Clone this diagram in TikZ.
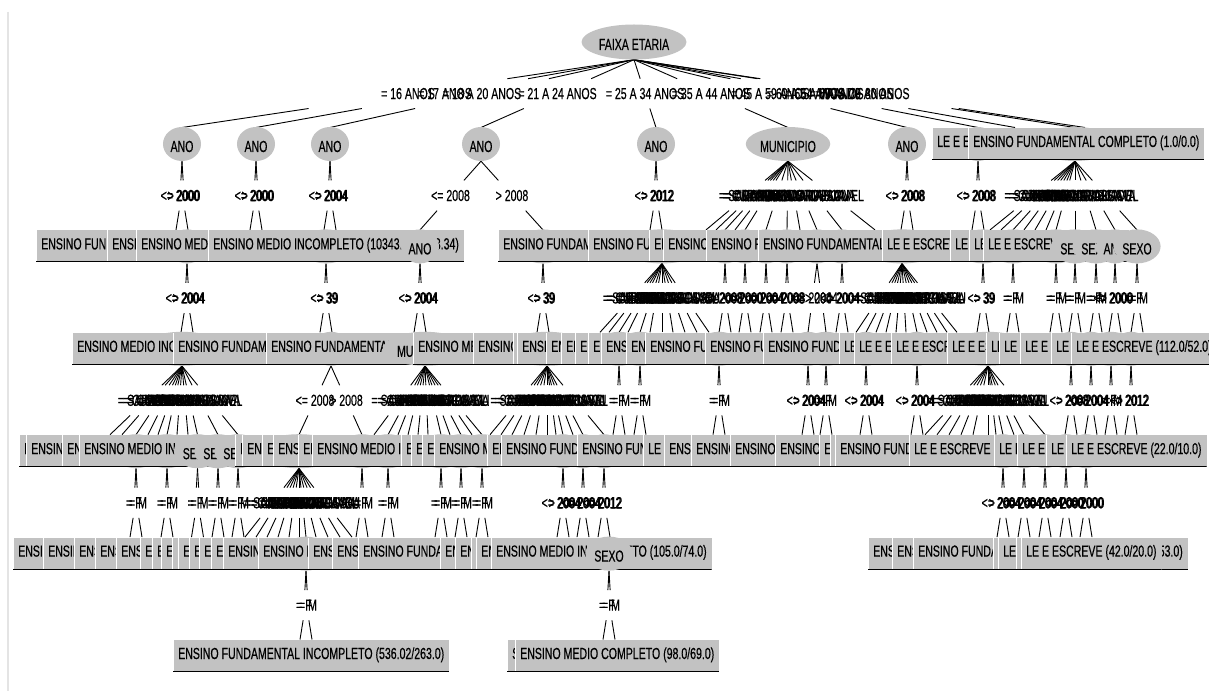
\documentclass[tikz,border=0pt]{standalone}
\usepackage{fontspec}
\setmainfont[FakeStretch=0.66,FakeBold=0.4]{Liberation Sans}
\usetikzlibrary{calc,shapes.geometric}
\pgfdeclarelayer{paper}
\pgfdeclarelayer{wires}
\pgfsetlayers{paper,wires,main}
\definecolor{nodegray}{RGB}{194,194,194}
\definecolor{shade}{RGB}{165,165,165}
\definecolor{framegray}{RGB}{228,228,228}
\tikzset{
  every node/.style={font=\fontsize{16}{16}\selectfont},
  split/.style={ellipse, fill=nodegray, inner xsep=2pt, inner ysep=0pt,
    minimum height=34pt, text height=16pt, text depth=0pt},
  leaf/.style={rectangle, fill=nodegray, inner xsep=5pt, inner ysep=0pt,
    minimum height=32pt, anchor=west, text height=11pt, text depth=5pt,
    path picture={
      \draw[white, line width=1pt]
        ([xshift=0.5pt]path picture bounding box.south west) --
        ([xshift=0.5pt]path picture bounding box.north west);
      \draw[shade, line width=1pt]
        ([yshift=0.5pt]path picture bounding box.south west) --
        ([yshift=0.5pt]path picture bounding box.south east);}},
  lbl/.style={inner sep=0pt, text height=11pt, text depth=0pt},
  wire/.style={draw=black, line width=0.9pt}
}
% nodes: an attribute test (ellipse) and a class leaf (box, left edge given)
\newcommand\splitnode[4]{\node[split] (#1) at (#2,#3) {#4};}
\newcommand\leafnode[4]{\node[leaf] (#1) at (#2,#3) {#4};}
% a branch: line from the test to the child, broken where its label sits
\newcommand\fan[3]{%
  \foreach \cx/\lab [count=\k] in {#3}{%
    \coordinate (#1-\k) at (\cx,#2);
    \draw[wire] (#1.south) -- ($(#1.south)!0.28!(#1-\k)$)
      ($(#1-\k)!0.28!(#1.south)$) -- (#1-\k);
    \node[lbl] at ($(#1.south)!0.5!(#1-\k)$) {\lab};
  }}
\newcommand\yfan[5]{\fan{#1}{#2}{#3/<= #5,#4/> #5}}
% binary test whose two children sit close together round a centre
\newcommand\pairfan[5]{%
  \foreach \d/\lab [count=\k] in {-1/#4,1/#5}{%
    \coordinate (#1-\k) at ({#3+6*\d},#2);
    \coordinate (#1-v\k) at ({#3+4*\d},#2);
    \draw[wire] (#1.south) -- ($(#1.south)!0.28!(#1-v\k)$)
      ($(#1-v\k)!0.28!(#1.south)$) -- (#1-\k);
    \node[lbl] at ($(#1.south)!0.5!(#1-v\k)$) {\lab};
  }}
\newcommand\ypair[4]{\pairfan{#1}{#2}{#3}{<= #4}{> #4}}
\newcommand\spair[3]{\pairfan{#1}{#2}{#3}{= F}{= M}}
\newcommand\city[1]{\ifcase#1\or= SARANDI\or= CURITIBA\or= COLOMBO\or= MARINGA\or= LONDRINA\or= PINHAIS\or= ARAUCARIA\or= PONTA GROSSA\or= FOZ DO IGUACU\or= GUARAPUAVA\or= CASCAVEL\fi}
\newcommand\munfan[3]{%
  \foreach \cx [count=\k] in {#3}{%
    \coordinate (#1-\k) at (\cx,#2);
    \draw[wire] (#1.south) -- ($(#1.south)!0.28!(#1-\k)$)
      ($(#1-\k)!0.28!(#1.south)$) -- (#1-\k);
    \node[lbl] at ($(#1.south)!0.5!(#1-\k)$) {\city{\k}};
  }}

\begin{document}
\begin{tikzpicture}[x=1pt,y=-1pt]
\begin{pgfonlayer}{paper}
\fill[white] (0,0) rectangle (1209,691);
\draw[framegray, line width=2pt] (8,12) -- (8,691);
\end{pgfonlayer}
\useasboundingbox (0,0) rectangle (1209,691);

% ---------------- depth 0
\node[split, minimum height=35pt] (fe) at (634,42) {FAIXA ETARIA};

% ---------------- depth 1
\splitnode{a1}{182}{144}{ANO}
\splitnode{a2}{256}{144}{ANO}
\splitnode{a3}{330}{144}{ANO}
\splitnode{a4}{481}{144}{ANO}
\splitnode{a5}{656}{144}{ANO}
\splitnode{m1}{788}{144}{MUNICIPIO}
\splitnode{a6}{907}{144}{ANO}
\splitnode{a7}{978}{144}{ANO}
\leafnode{l1}{932}{144}{LE E ESCREVE (1234.0/567.0)}
\splitnode{m2}{1075}{144}{MUNICIPIO}
\leafnode{l2}{968}{144}{ENSINO FUNDAMENTAL COMPLETO (1.0/0.0)}

% ---------------- depth 2
\splitnode{a8}{187}{246.4}{ANO}
\splitnode{i1}{326}{246.4}{IDADE}
\splitnode{i2}{543}{246.4}{IDADE}
\splitnode{m3}{662}{246.4}{MUNICIPIO}
\splitnode{a10}{725}{246.4}{ANO}
\splitnode{a11}{745}{246.4}{ANO}
\splitnode{a12}{766}{246.4}{ANO}
\splitnode{a13}{787}{246.4}{ANO}
\splitnode{a14}{817}{246.4}{ANO}
\splitnode{a15}{842}{246.4}{ANO}
\splitnode{m4}{902}{246.4}{MUNICIPIO}
\splitnode{i3}{983}{246.4}{IDADE}
\splitnode{s1}{1013}{246.4}{SEXO}
\splitnode{s2}{1056}{246.4}{SEXO}
\leafnode{b1}{36}{246.4}{ENSINO FUNDAMENTAL INCOMPLETO (25.0/11.0)}
\leafnode{b2}{107}{246.4}{ENSINO MEDIO COMPLETO (8.0/3.0)}
\leafnode{b3}{136}{246.4}{ENSINO MEDIO COMPLETO (31.0/15.0)}
\leafnode{b4}{208}{246.4}{ENSINO MEDIO INCOMPLETO (10343.16/5263.34)}
\splitnode{a9}{420}{246.4}{ANO}
\leafnode{b5}{498}{246.4}{ENSINO FUNDAMENTAL COMPLETO (17.0/9.0)}
\leafnode{b6}{588}{246.4}{ENSINO FUNDAMENTAL INCOMPLETO (6.0/2.0)}
\leafnode{b7}{649}{246.4}{ENSINO MEDIO COMPLETO (3.0/1.0)}
\leafnode{b8}{663}{246.4}{ENSINO MEDIO COMPLETO (11.0/5.0)}
\leafnode{b9}{706}{246.4}{ENSINO FUNDAMENTAL COMPLETO (14.0/7.0)}
\leafnode{b10}{758}{246.4}{ENSINO FUNDAMENTAL COMPLETO (23.0/12.0)}
\leafnode{b11}{882}{246.4}{LE E ESCREVE (19.0/9.0)}
\leafnode{b12}{950}{246.4}{LE E ESCREVE (4.0/1.0)}
\leafnode{b13}{969}{246.4}{LE E ESCREVE (7.0/3.0)}
\leafnode{b14}{983}{246.4}{LE E ESCREVE (120.0/56.0)}
\splitnode{s3}{1075}{246.4}{SEXO}
\splitnode{s4}{1096}{246.4}{SEXO}
\splitnode{a16}{1115}{246.4}{ANO}
\splitnode{s5}{1137}{246.4}{SEXO}

% ---------------- depth 3
\splitnode{m5}{182}{348.8}{MUNICIPIO}
\splitnode{a17}{331}{348.8}{ANO}
\splitnode{m7}{547}{348.8}{MUNICIPIO}
\splitnode{s6}{619}{348.8}{SEXO}
\splitnode{s7}{640}{348.8}{SEXO}
\splitnode{s8}{719}{348.8}{SEXO}
\splitnode{a18}{808}{348.8}{ANO}
\splitnode{s9}{826}{348.8}{SEXO}
\splitnode{a19}{866}{348.8}{ANO}
\splitnode{a20}{917}{348.8}{ANO}
\splitnode{m8}{988}{348.8}{MUNICIPIO}
\splitnode{a21}{1071}{348.8}{ANO}
\splitnode{a22}{1091}{348.8}{ANO}
\splitnode{s10}{1111}{348.8}{SEXO}
\splitnode{a23}{1131}{348.8}{ANO}
\leafnode{c1}{72}{348.8}{ENSINO MEDIO INCOMPLETO (45.0/20.0)}
\leafnode{c2}{173}{348.8}{ENSINO FUNDAMENTAL COMPLETO (12.0/6.0)}
\leafnode{c3}{266}{348.8}{ENSINO FUNDAMENTAL INCOMPLETO (88.0/41.0)}
\splitnode{m6}{425}{348.8}{MUNICIPIO}
\leafnode{c4}{413}{348.8}{ENSINO MEDIO COMPLETO (9.0/4.0)}
\leafnode{c5}{473}{348.8}{ENSINO MEDIO INCOMPLETO (5.0/2.0)}
\leafnode{c6}{513}{348.8}{ENSINO MEDIO COMPLETO (2.0/1.0)}
\leafnode{c7}{517}{348.8}{ENSINO FUNDAMENTAL COMPLETO (6.0/3.0)}
\leafnode{c8}{546}{348.8}{ENSINO MEDIO COMPLETO (3.0/1.0)}
\leafnode{c9}{561}{348.8}{ENSINO MEDIO COMPLETO (4.0/2.0)}
\leafnode{c10}{575}{348.8}{ENSINO MEDIO INCOMPLETO (2.0/1.0)}
\leafnode{c11}{588}{348.8}{ENSINO MEDIO COMPLETO (5.0/2.0)}
\leafnode{c12}{601}{348.8}{ENSINO FUNDAMENTAL COMPLETO (7.0/3.0)}
\leafnode{c13}{626}{348.8}{ENSINO MEDIO COMPLETO (4.0/1.0)}
\leafnode{c14}{645}{348.8}{ENSINO FUNDAMENTAL COMPLETO (15.0/7.0)}
\leafnode{c15}{705}{348.8}{ENSINO FUNDAMENTAL INCOMPLETO (21.0/10.0)}
\leafnode{c16}{763}{348.8}{ENSINO FUNDAMENTAL COMPLETO (18.0/8.0)}
\leafnode{c17}{839}{348.8}{LE E ESCREVE (3.0/1.0)}
\leafnode{c18}{854}{348.8}{LE E ESCREVE (6.0/2.0)}
\leafnode{c19}{891}{348.8}{LE E ESCREVE (13.0/6.0)}
\leafnode{c20}{947}{348.8}{LE E ESCREVE (9.0/4.0)}
\leafnode{c21}{986}{348.8}{LE E ESCREVE (2.0/1.0)}
\leafnode{c22}{999}{348.8}{LE E ESCREVE (5.0/2.0)}
\leafnode{c23}{1020}{348.8}{LE E ESCREVE (8.0/3.0)}
\leafnode{c24}{1051}{348.8}{LE E ESCREVE (4.0/2.0)}
\leafnode{c25}{1071}{348.8}{LE E ESCREVE (112.0/52.0)}

% ---------------- depth 4
\splitnode{s11}{136}{451.2}{SEXO}
\splitnode{s12}{167}{451.2}{SEXO}
\splitnode{m9}{299}{451.2}{MUNICIPIO}
\splitnode{s13}{362}{451.2}{SEXO}
\splitnode{s14}{388}{451.2}{SEXO}
\splitnode{s15}{441}{451.2}{SEXO}
\splitnode{s16}{461}{451.2}{SEXO}
\splitnode{s17}{482}{451.2}{SEXO}
\splitnode{a24}{563}{451.2}{ANO}
\splitnode{a25}{583}{451.2}{ANO}
\splitnode{a26}{604}{451.2}{ANO}
\splitnode{a27}{1003}{451.2}{ANO}
\splitnode{a28}{1024}{451.2}{ANO}
\splitnode{a29}{1045}{451.2}{ANO}
\splitnode{a30}{1066}{451.2}{ANO}
\splitnode{a31}{1086}{451.2}{ANO}
\leafnode{d1}{19}{451.2}{ENSINO MEDIO COMPLETO (2.0/1.0)}
\leafnode{d2}{26}{451.2}{ENSINO MEDIO INCOMPLETO (7.0/3.0)}
\leafnode{d3}{62}{451.2}{ENSINO MEDIO COMPLETO (4.0/2.0)}
\leafnode{d4}{79}{451.2}{ENSINO MEDIO INCOMPLETO (30.0/14.0)}
\splitnode{s18}{197.5}{451.2}{SEXO}
\splitnode{s19}{218}{451.2}{SEXO}
\splitnode{s20}{238}{451.2}{SEXO}
\leafnode{d5}{235}{451.2}{ENSINO MEDIO COMPLETO (3.0/1.0)}
\leafnode{d6}{242}{451.2}{ENSINO MEDIO COMPLETO (6.0/3.0)}
\leafnode{d7}{262}{451.2}{ENSINO MEDIO COMPLETO (2.0/1.0)}
\leafnode{d8}{273}{451.2}{ENSINO MEDIO COMPLETO (5.0/2.0)}
\leafnode{d9}{298}{451.2}{ENSINO MEDIO COMPLETO (3.0/1.0)}
\leafnode{d10}{312}{451.2}{ENSINO MEDIO INCOMPLETO (26.0/12.0)}
\leafnode{d11}{401}{451.2}{ENSINO MEDIO COMPLETO (2.0/1.0)}
\leafnode{d12}{411}{451.2}{ENSINO MEDIO COMPLETO (3.0/1.0)}
\leafnode{d13}{422}{451.2}{ENSINO MEDIO COMPLETO (4.0/2.0)}
\leafnode{d14}{434}{451.2}{ENSINO MEDIO INCOMPLETO (9.0/4.0)}
\leafnode{d15}{487}{451.2}{ENSINO MEDIO COMPLETO (3.0/1.0)}
\leafnode{d16}{501}{451.2}{ENSINO FUNDAMENTAL COMPLETO (11.0/5.0)}
\leafnode{d17}{577}{451.2}{ENSINO FUNDAMENTAL INCOMPLETO (8.0/4.0)}
\leafnode{d18}{643}{451.2}{LE E ESCREVE (2.0/1.0)}
\leafnode{d19}{664}{451.2}{ENSINO MEDIO COMPLETO (3.0/1.0)}
\leafnode{d20}{691}{451.2}{ENSINO MEDIO COMPLETO (6.0/2.0)}
\leafnode{d21}{730}{451.2}{ENSINO MEDIO COMPLETO (9.0/4.0)}
\leafnode{d22}{775}{451.2}{ENSINO MEDIO COMPLETO (7.0/3.0)}
\leafnode{d23}{819}{451.2}{ENSINO MEDIO COMPLETO (2.0/1.0)}
\leafnode{d24}{830}{451.2}{ENSINO MEDIO COMPLETO (1.0/0.0)}
\leafnode{d25}{835}{451.2}{ENSINO FUNDAMENTAL COMPLETO (10.0/5.0)}
\leafnode{d26}{909}{451.2}{LE E ESCREVE (14.0/6.0)}
\leafnode{d27}{994}{451.2}{LE E ESCREVE (5.0/2.0)}
\leafnode{d28}{1017}{451.2}{LE E ESCREVE (6.0/3.0)}
\leafnode{d29}{1046}{451.2}{LE E ESCREVE (3.0/1.0)}
\leafnode{d30}{1066}{451.2}{LE E ESCREVE (22.0/10.0)}

% ---------------- depth 5
\splitnode{s21}{306}{553.6}{SEXO}
\leafnode{e1}{13}{553.6}{ENSINO MEDIO COMPLETO (2.0/1.0)}
\leafnode{e2}{43}{553.6}{ENSINO MEDIO COMPLETO (3.0/1.0)}
\leafnode{e3}{74}{553.6}{ENSINO MEDIO COMPLETO (5.0/2.0)}
\leafnode{e4}{95}{553.6}{ENSINO MEDIO COMPLETO (4.0/2.0)}
\leafnode{e5}{116}{553.6}{ENSINO MEDIO COMPLETO (6.0/3.0)}
\leafnode{e6}{140}{553.6}{ENSINO MEDIO COMPLETO (2.0/1.0)}
\leafnode{e7}{152}{553.6}{ENSINO MEDIO COMPLETO (3.0/1.0)}
\leafnode{e8}{161}{553.6}{ENSINO MEDIO COMPLETO (1.0/0.0)}
\leafnode{e9}{172}{553.6}{ENSINO MEDIO COMPLETO (2.0/1.0)}
\leafnode{e10}{178}{553.6}{ENSINO MEDIO COMPLETO (4.0/2.0)}
\leafnode{e11}{189}{553.6}{ENSINO MEDIO COMPLETO (3.0/1.0)}
\leafnode{e12}{199}{553.6}{ENSINO MEDIO COMPLETO (5.0/2.0)}
\leafnode{e13}{211}{553.6}{ENSINO MEDIO COMPLETO (2.0/1.0)}
\leafnode{e14}{223}{553.6}{ENSINO MEDIO COMPLETO (7.0/3.0)}
\leafnode{e15}{258}{553.6}{ENSINO FUNDAMENTAL INCOMPLETO (12.0/6.0)}
\leafnode{e16}{308}{553.6}{ENSINO MEDIO COMPLETO (3.0/1.0)}
\leafnode{e17}{332}{553.6}{ENSINO MEDIO COMPLETO (5.0/2.0)}
\leafnode{e18}{358}{553.6}{ENSINO FUNDAMENTAL COMPLETO (9.0/4.0)}
\leafnode{e19}{440}{553.6}{ENSINO MEDIO COMPLETO (2.0/1.0)}
\leafnode{e20}{455}{553.6}{ENSINO MEDIO COMPLETO (3.0/1.0)}
\leafnode{e21}{471}{553.6}{ENSINO MEDIO COMPLETO (1.0/0.0)}
\leafnode{e22}{476}{553.6}{ENSINO MEDIO COMPLETO (4.0/2.0)}
\leafnode{e23}{491}{553.6}{ENSINO MEDIO INCOMPLETO (105.0/74.0)}
\splitnode{s22}{609}{553.6}{SEXO}
\leafnode{e24}{868}{553.6}{ENSINO MEDIO COMPLETO (2.0/1.0)}
\leafnode{e25}{892}{553.6}{ENSINO MEDIO COMPLETO (3.0/1.0)}
\leafnode{e26}{913}{553.6}{ENSINO FUNDAMENTAL COMPLETO (6.0/3.0)}
\node[leaf, anchor=east] (e27) at (1188,553.6) {LE E ESCREVE (113.0/53.0)};
\leafnode{e28}{993}{553.6}{LE E ESCREVE (2.0/1.0)}
\leafnode{e29}{998}{553.6}{LE E ESCREVE (4.0/2.0)}
\leafnode{e30}{1016}{553.6}{LE E ESCREVE (3.0/1.0)}
\leafnode{e31}{1021}{553.6}{LE E ESCREVE (42.0/20.0)}

% ---------------- depth 6
\leafnode{f1}{173}{656}{ENSINO FUNDAMENTAL INCOMPLETO (536.02/263.0)}
\leafnode{f2}{507}{656}{SUPERIOR INCOMPLETO (14.0/6.0)}
\leafnode{f3}{515}{656}{ENSINO MEDIO COMPLETO (98.0/69.0)}

% ---------------- branches and their labels
\begin{pgfonlayer}{wires}
\fan{fe}{127.5}{182/= 16 ANOS,256/= 17 ANOS,330/= 18 A 20 ANOS,481/= 21 A 24 ANOS,656/= 25 A 34 ANOS,788/= 35 A 44 ANOS,907/= 45 A 59 ANOS,978/= 60 A 64 ANOS,1015/= 65 A 69 ANOS,1075/= 70 A 79 ANOS,1085/= MAIS DE 80 ANOS}

\ypair{a1}{229.9}{182}{2000}
\ypair{a2}{229.9}{256}{2000}
\ypair{a3}{229.9}{330}{2004}
\yfan{a4}{229.9}{420}{543}{2008}
\ypair{a5}{229.9}{656}{2012}
\munfan{m1}{229.9}{706,716,725,735,745,766,787,800,817,842,875}
\ypair{a6}{229.9}{907}{2008}
\ypair{a7}{229.9}{978}{2008}
\munfan{m2}{229.9}{990,1001,1013,1024,1035,1046,1056,1075,1096,1115,1137}

\ypair{a8}{332.3}{187}{2004}
\pairfan{i1}{332.3}{326}{<= 39}{> 39}
\ypair{a9}{332.3}{420}{2004}
\pairfan{i2}{332.3}{543}{<= 39}{> 39}
\munfan{m3}{332.3}{600,609,619,628,640,650,662,673,685,697,709}
\ypair{a10}{332.3}{725}{2008}
\ypair{a11}{332.3}{745}{2000}
\ypair{a12}{332.3}{766}{2004}
\ypair{a13}{332.3}{787}{2008}
\yfan{a14}{332.3}{808}{826}{2004}
\ypair{a15}{332.3}{842}{2004}
\munfan{m4}{332.3}{856,866,876,886,896,906,917,927,937,947,957}
\pairfan{i3}{332.3}{983}{<= 39}{> 39}
\spair{s1}{332.3}{1013}
\spair{s2}{332.3}{1056}
\spair{s3}{332.3}{1075}
\spair{s4}{332.3}{1096}
\ypair{a16}{332.3}{1115}{2000}
\spair{s5}{332.3}{1137}

\munfan{m5}{434.7}{110,122,136,148,158,167,177,188,197.5,218,238}
\yfan{a17}{434.7}{299}{362}{2008}
\munfan{m6}{434.7}{374,388,398,408,418,428,441,450,461,472,482}
\munfan{m7}{434.7}{490,501,512,524,536,547,556,563,573,583,604}
\spair{s6}{434.7}{619}
\spair{s7}{434.7}{640}
\spair{s8}{434.7}{719}
\ypair{a18}{434.7}{808}{2004}
\spair{s9}{434.7}{826}
\ypair{a19}{434.7}{866}{2004}
\ypair{a20}{434.7}{917}{2004}
\munfan{m8}{434.7}{925,937,949,961,973,988,996,1003,1014,1024,1045}
\ypair{a21}{434.7}{1071}{2008}
\ypair{a22}{434.7}{1091}{2004}
\spair{s10}{434.7}{1111}
\ypair{a23}{434.7}{1131}{2012}

\spair{s11}{537.1}{136}
\spair{s12}{537.1}{167}
\spair{s18}{537.1}{197.5}
\spair{s19}{537.1}{218}
\spair{s20}{537.1}{238}
\munfan{m9}{537.1}{245,256,267,278,289,299,306,316,328,340,352}
\spair{s13}{537.1}{362}
\spair{s14}{537.1}{388}
\spair{s15}{537.1}{441}
\spair{s16}{537.1}{461}
\spair{s17}{537.1}{482}
\ypair{a24}{537.1}{563}{2004}
\ypair{a25}{537.1}{583}{2004}
\ypair{a26}{537.1}{604}{2012}
\ypair{a27}{537.1}{1003}{2004}
\ypair{a28}{537.1}{1024}{2004}
\ypair{a29}{537.1}{1045}{2004}
\ypair{a30}{537.1}{1066}{2000}
\ypair{a31}{537.1}{1086}{2000}

\spair{s21}{639.5}{306}
\spair{s22}{639.5}{609}
\end{pgfonlayer}
\end{tikzpicture}
\end{document}
